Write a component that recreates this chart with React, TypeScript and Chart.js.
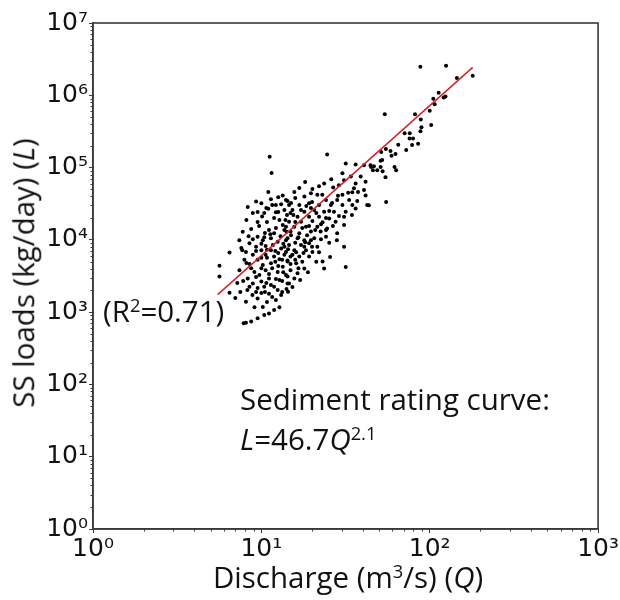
import React, { useEffect, useRef } from "react";
import { Chart, registerables } from "chart.js";

Chart.register(...registerables);

const samples: [number, number][] = [
  [11.2, 141000], [11.5, 84000], [11.0, 46000], [9.3, 34000], [10.0, 32000], [12.6, 39000], [13.4, 41000], [14.0, 35500], [11.0, 27000], [13.1, 31000],
  [10.1, 21000], [12.2, 24000], [13.7, 25800], [12.8, 18800], [9.7, 15500], [7.75, 12900], [11.1, 13700], [11.9, 12300], [13.4, 16000], [8.9, 10200],
  [9.5, 11000], [10.2, 9900], [11.4, 10500], [8.5, 9000], [9.3, 8000], [10.6, 8200], [12.5, 9400], [14.0, 9900], [6.47, 6700], [8.1, 6800],
  [10.0, 7200], [11.4, 7200], [13.1, 7600], [8.9, 6200], [10.6, 6200], [11.9, 5900], [13.7, 6200], [7.93, 5300], [9.5, 5300], [12.8, 5400],
  [14.3, 5200], [5.64, 4400], [8.5, 4650], [10.2, 4500], [11.4, 4750], [13.4, 4250], [7.41, 3800], [9.09, 3600], [10.6, 3800], [12.5, 3600],
  [5.64, 3100], [9.73, 3260], [14.0, 3260], [8.3, 2930], [11.1, 2930], [12.8, 2780], [8.9, 2500], [10.0, 2650], [14.3, 2500], [8.5, 2250],
  [10.4, 2250], [11.9, 2250], [6.47, 1850], [9.3, 1900], [11.1, 1790], [13.1, 1730], [8.1, 1390], [9.5, 1550], [12.2, 1470], [10.2, 1180],
  [11.9, 1070], [11.1, 960], [10.4, 910], [9.5, 820], [8.7, 740], [8.1, 715], [7.85, 700],
  [24.6, 152000], [31.7, 114000], [36.3, 110000], [40.7, 108000], [44.9, 102000], [30.3, 83500], [34.0, 75000], [38.9, 75000], [31.0, 67000], [23.6, 60000],
  [36.3, 60000], [41.6, 63500], [26.7, 53000], [20.1, 50600], [35.5, 51700], [40.7, 49000], [21.5, 42000], [30.3, 42000], [34.7, 45500], [18.0, 39800],
  [19.7, 44300], [24.2, 35500], [28.2, 35500], [33.2, 35500], [37.1, 34400], [41.6, 41000], [42.5, 30300], [14.3, 34400], [16.8, 30300], [19.2, 32000],
  [22.0, 30300], [25.9, 30300], [30.3, 30300], [34.7, 30300], [36.3, 27200], [15.3, 25800], [18.0, 24400], [20.6, 25800], [23.6, 24400], [27.0, 24400],
  [31.7, 24400], [14.2, 22000], [16.4, 20800], [19.2, 20800], [22.0, 20800], [25.3, 19800], [31.0, 20800], [14.6, 17800], [17.2, 17800], [20.1, 18200],
  [23.1, 17500], [27.6, 17800], [31.0, 16000], [14.0, 15200], [15.7, 15200], [18.4, 15200], [21.5, 15200], [24.6, 14400], [28.2, 12300], [14.9, 13000],
  [16.8, 12300], [19.7, 13000], [22.5, 13000], [14.3, 10500], [16.4, 10500], [18.0, 9900], [20.6, 10500], [24.2, 11000], [14.6, 8500], [17.2, 8500],
  [19.2, 9000], [21.5, 8000], [31.0, 8000], [14.0, 6800], [15.7, 7200], [18.4, 7200], [20.1, 6800], [14.9, 5900], [16.8, 5900], [19.2, 5900],
  [23.1, 5000], [14.3, 5000], [16.1, 4750], [18.0, 4000], [23.6, 4000], [31.7, 4200], [14.9, 3800], [16.4, 3450], [14.3, 3100], [15.7, 2930],
  [14.6, 2500], [14.4, 1920],
  [88, 2480000], [125, 2560000], [180, 1860000], [145, 1740000], [113, 1080000], [105, 895000], [124, 960000], [121, 930000], [107, 750000], [100, 610000],
  [54.1, 545000], [81.8, 545000], [88.5, 464000], [102, 387000], [89.3, 361000], [88.1, 317000], [70.9, 298000], [76.1, 298000], [75.9, 253000], [79.6, 253000],
  [65.0, 207000], [78.6, 205000], [85.3, 213000], [72.5, 175000], [54.9, 181000], [51.5, 164000], [58.5, 170000], [62.6, 154000], [59.3, 146000], [52.2, 127000],
  [51.1, 124000], [44.5, 108000], [46.6, 104000], [51.1, 102000], [61.8, 102000], [46.0, 92000], [48.8, 92000], [52.5, 89000], [63.2, 92000], [54.6, 73500],
  [55.1, 33300], [43.5, 30000],
  [8.7, 14100], [10.5, 12400], [12.2, 14600], [14.1, 12900], [8.4, 11200], [10.0, 8800], [11.7, 8500], [13.5, 8800], [9.3, 7000], [10.8, 5650],
  [12.6, 6600], [14.4, 7400], [7.6, 7700], [8.7, 4050], [10.0, 5650], [11.6, 4050], [13.5, 3570], [8.15, 4800], [9.3, 3060], [10.7, 2530],
  [12.5, 2020], [14.1, 2090], [7.8, 2690], [8.85, 1730], [10.0, 1840], [11.4, 2370], [13.3, 2690], [7.2, 2530], [8.26, 2020], [10.8, 1380],
  [12.8, 1170], [9.1, 1170], [7.0, 1570], [7.5, 1900], [12.1, 4970], [10.4, 10900], [13.9, 18800], [11.9, 20000], [10.8, 17600], [9.5, 24200],
  [14.6, 30300], [15.9, 38000], [11.4, 36600], [10.4, 23500],
  [15.5, 22000], [17.5, 14600], [18.7, 11600], [20.9, 13700], [15.9, 9100], [18.0, 8000], [19.7, 9900], [22.6, 10200], [25.3, 9100], [16.1, 6750],
  [17.5, 4970], [21.2, 4970], [18.9, 3570], [17.0, 2780], [15.3, 2220], [22.0, 6750], [24.2, 13700], [26.6, 15500], [28.9, 21300], [26.3, 32300],
  [23.0, 42000], [20.0, 33300], [15.9, 17600], [13.7, 8000], [16.6, 4050], [20.0, 8000], [18.5, 29400], [21.2, 23500], [25.3, 25000], [28.5, 40700],
  [32.8, 45000], [37.5, 46000], [34.5, 22000], [28.1, 9900], [25.6, 5800], [16.8, 52000], [18.2, 63000], [22.0, 55000], [26.0, 69000], [28.9, 57000],
  [15.7, 46000],
  [10.7, 27500], [12.2, 30300], [15.0, 32300], [8.3, 28400], [8.9, 23500], [8.15, 18800], [7.4, 9900], [7.7, 7200],
  [9.5, 17600], [11.3, 12000], [13.0, 11200], [15.0, 11600], [16.6, 10900], [10.8, 7300], [12.1, 7000], [15.3, 6200], [17.8, 6600], [13.3, 5300],
  [15.9, 5300], [10.0, 4050], [12.6, 4350], [14.9, 4650], [11.1, 3370], [12.2, 2870], [9.5, 2150], [10.5, 1900], [13.3, 1900], [11.6, 1620],
  [19.2, 15500], [22.6, 16500], [19.7, 27500], [24.2, 20000], [17.2, 25800], [14.9, 23500], [12.6, 24200], [11.6, 30300], [13.7, 13700], [18.2, 9300],
];

// Rating-curve end points
const fitLine: [number, number][] = [
  [5.5, 1750],
  [180, 2430000],
];

// Axis ranges (powers of ten)
const xDecades = [0, 1, 2, 3];
const yDecades = [0, 1, 2, 3, 4, 5, 6, 7];
const minorMultipliers = [1, 2, 3, 4, 5, 6, 7, 8, 9];

const SUP = ["⁰", "¹", "²", "³", "⁴", "⁵", "⁶", "⁷", "⁸", "⁹"];

function logTicks(decades: number[]) {
  const out: { value: number; major: boolean }[] = [];
  const last = decades[decades.length - 1];
  for (const d of decades) {
    for (const m of minorMultipliers) {
      if (d === last && m > 1) break;
      out.push({ value: m * Math.pow(10, d), major: m === 1 });
    }
  }
  return out;
}

function powLabel(v: number) {
  const e = Math.log10(v);
  const r = Math.round(e);
  if (Math.abs(e - r) < 1e-9) return "10" + String(r).split("").map((c) => SUP[+c]).join("");
  return "";
}

const AXIS_COLOR = "#3a3a3a";

const framePlugin = {
  id: "frameAndMinor",
  afterDraw(chart: any) {
    const { ctx, chartArea } = chart;
    const { left, top, right, bottom } = chartArea;
    ctx.save();
    ctx.strokeStyle = AXIS_COLOR;
    ctx.lineWidth = 1;
    const xs = chart.scales.x;
    const ys = chart.scales.y;
    ctx.beginPath();
    for (const t of xs.ticks) {
      if (t.major) continue;
      const px = Math.round(xs.getPixelForValue(t.value)) + 0.5;
      ctx.moveTo(px, bottom);
      ctx.lineTo(px, bottom + 2.5);
    }
    for (const t of ys.ticks) {
      if (t.major) continue;
      const py = Math.round(ys.getPixelForValue(t.value)) + 0.5;
      ctx.moveTo(left, py);
      ctx.lineTo(left - 2.5, py);
    }
    ctx.stroke();
    ctx.lineWidth = 1.6;
    ctx.strokeRect(left, top, right - left, bottom - top);
    ctx.restore();
  },
};

export default function App() {
  const ref = useRef<HTMLCanvasElement | null>(null);

  useEffect(() => {
    if (!ref.current) return;
    const tickFont = { family: "'DejaVu Sans', sans-serif", size: 25 };
    const chart = new Chart(ref.current, {
      type: "scatter",
      data: {
        datasets: [
          {
            label: "fit",
            data: fitLine.map(([x, y]) => ({ x, y })),
            showLine: true,
            borderColor: "#d4202a",
            borderWidth: 1.5,
            pointRadius: 0,
            order: 0,
          },
          {
            label: "obs",
            data: samples.map(([x, y]) => ({ x, y })),
            pointRadius: 2,
            pointBackgroundColor: "#000",
            pointBorderWidth: 0,
            showLine: false,
            order: 1,
          },
        ],
      },
      options: {
        animation: false,
        responsive: false,
        devicePixelRatio: 1,
        layout: { padding: { top: 23, right: 20, left: 0, bottom: 0 } },
        plugins: { legend: { display: false }, tooltip: { enabled: false } },
        scales: {
          x: {
            type: "logarithmic",
            min: 1,
            max: 1000,
            afterBuildTicks: (s: any) => {
              s.ticks = logTicks(xDecades);
            },
            afterFit: (s: any) => {
              s.height = 71;
            },
            grid: {
              drawOnChartArea: false,
              tickLength: 4,
              tickColor: (c: any) => (c.tick && c.tick.major ? AXIS_COLOR : "rgba(0,0,0,0)"),
            },
            border: { color: AXIS_COLOR, width: 1.5 },
            ticks: {
              autoSkip: false,
              maxRotation: 0,
              padding: 1,
              color: "#111",
              font: tickFont,
              callback: (v: any) => powLabel(Number(v)),
            },
          },
          y: {
            type: "logarithmic",
            min: 1,
            max: 1e7,
            afterBuildTicks: (s: any) => {
              s.ticks = logTicks(yDecades);
            },
            afterFit: (s: any) => {
              s.width = 93;
            },
            grid: {
              drawOnChartArea: false,
              tickLength: 4,
              tickColor: (c: any) => (c.tick && c.tick.major ? AXIS_COLOR : "rgba(0,0,0,0)"),
            },
            border: { color: AXIS_COLOR, width: 1.5 },
            ticks: {
              autoSkip: false,
              padding: 1,
              color: "#111",
              font: tickFont,
              callback: (v: any) => powLabel(Number(v)),
            },
          },
        },
      },
      plugins: [framePlugin],
    } as any);
    return () => chart.destroy();
  }, []);

  const textFont = "'Open Sans', 'Noto Sans', sans-serif";
  const sup: React.CSSProperties = { fontSize: "0.62em", verticalAlign: "0.55em", lineHeight: 0 };
  const base: React.CSSProperties = {
    position: "absolute",
    whiteSpace: "nowrap",
    fontFamily: textFont,
    fontSize: 29.5,
    lineHeight: 1,
    color: "#111",
  };

  return (
    <div style={{ position: "absolute", left: 0, top: 0, width: 620, height: 600, background: "#fff" }}>
      <canvas ref={ref} width={620} height={600} style={{ display: "block" }} />
      <div style={{ ...base, left: 23, top: 273, transform: "translate(-50%, -50%) rotate(-90deg)" }}>
        SS loads (kg/day) (<i>L</i>)
      </div>
      <div style={{ ...base, left: 348, top: 562, transform: "translateX(-50%)" }}>
        Discharge (m<span style={sup}>3</span>/s) (<i>Q</i>)
      </div>
      <div style={{ ...base, left: 103, top: 296 }}>
        (R<span style={sup}>2</span>=0.71)
      </div>
      <div style={{ ...base, left: 240, top: 384 }}>Sediment rating curve:</div>
      <div style={{ ...base, left: 240, top: 424 }}>
        <i>L</i>=46.7<i>Q</i>
        <span style={sup}>2.1</span>
      </div>
    </div>
  );
}
